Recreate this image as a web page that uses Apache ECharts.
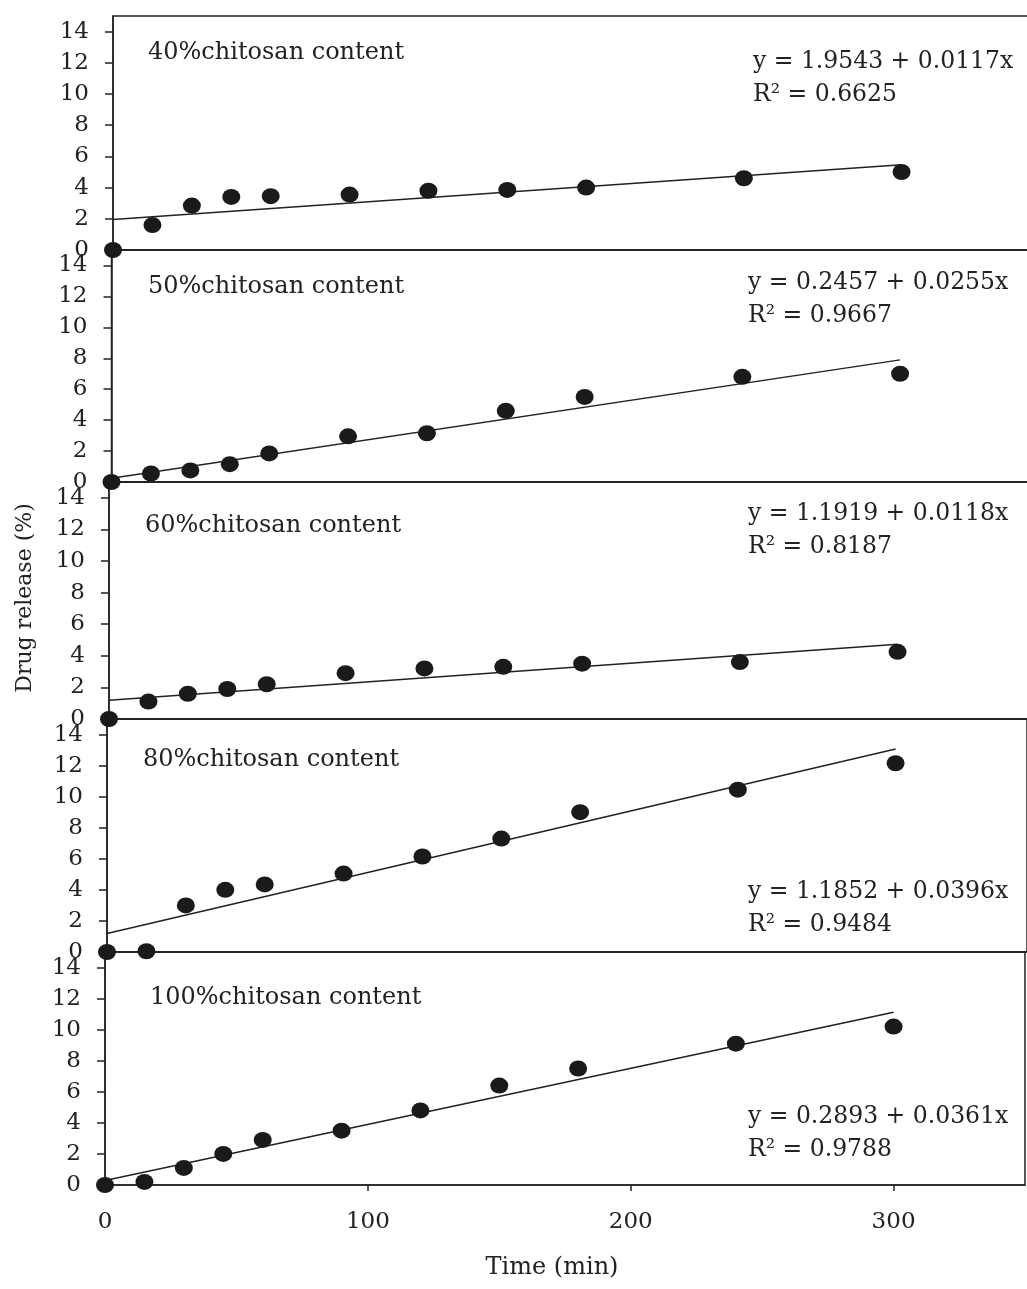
<!DOCTYPE html>
<html><head><meta charset="utf-8">
<script src="https://cdn.jsdelivr.net/npm/echarts@6/dist/echarts.min.js"></script>
<style>html,body{margin:0;padding:0;background:#fff}#c{width:1027px;height:1289px}</style>
</head><body><div id="c"></div>
<script>
// ---- data ----
const times = [0, 15, 30, 45, 60, 90, 120, 150, 180, 240, 300];
const panelNames = ['40%chitosan content', '50%chitosan content', '60%chitosan content', '80%chitosan content', '100%chitosan content'];
const release40  = [0, 1.6, 2.85, 3.4, 3.45, 3.55, 3.8, 3.85, 4.0, 4.6, 5.0];
const release50  = [0, 0.55, 0.75, 1.15, 1.85, 2.95, 3.15, 4.6, 5.5, 6.8, 7.0];
const release60  = [0, 1.1, 1.6, 1.9, 2.2, 2.9, 3.2, 3.3, 3.5, 3.6, 4.25];
const release80  = [0, 0.05, 3.0, 4.0, 4.35, 5.05, 6.15, 7.3, 9.0, 10.45, 12.15];
const release100 = [0, 0.2, 1.1, 2.0, 2.9, 3.5, 4.8, 6.4, 7.5, 9.1, 10.2];
const intercepts = [1.9543, 0.2457, 1.1919, 1.1852, 0.2893];
const slopes     = [0.0117, 0.0255, 0.0118, 0.0396, 0.0361];
const r2Values   = ['0.6625', '0.9667', '0.8187', '0.9484', '0.9788'];
const fitRange   = [0, 300];
const yTicks = [0, 2, 4, 6, 8, 10, 12, 14];
const xTicks = [0, 100, 200, 300];
const xLabel = 'Time (min)';
const yLabel = 'Drug release (%)';

// ---- layout ----
const allSeries = [release40, release50, release60, release80, release100];
const lefts   = [113, 111.5, 109, 107, 105];
const tops    = [16, 250, 482, 719, 952];
const heights = [234, 232, 237, 233, 233];
const nameY   = [53, 287, 526, 760, 998];
const nameX   = [148, 148, 145, 143, 150];
const eqY     = [62, 283, 514, 892, 1117];
const eqX     = [753, 748, 748, 748, 748];
const INK = '#222';
const FONT = 'DejaVu Serif';

const grid = [], xAxis = [], yAxis = [], series = [], graphic = [];
for (let i = 0; i < 5; i++) {
  grid.push({left: lefts[i], top: tops[i], width: 920, height: heights[i], show: true,
    borderColor: INK, borderWidth: 1.5, backgroundColor: 'transparent', outerBoundsMode: 'none'});
  const last = i === 4;
  xAxis.push({gridIndex: i, type: 'value', min: 0, max: 350, interval: 100,
    axisLine: {show: true, onZero: false, lineStyle: {color: INK, width: 1.5}},
    axisTick: {show: last, length: 6, customValues: xTicks, lineStyle: {color: INK, width: 1.5}},
    axisLabel: {show: last, customValues: xTicks, margin: 26, color: INK, fontFamily: FONT, fontSize: 23},
    splitLine: {show: false}});
  yAxis.push({gridIndex: i, type: 'value', min: 0, max: 15, interval: 2,
    axisLine: {show: true, lineStyle: {color: INK, width: 1.5}},
    axisTick: {show: true, length: 8, customValues: yTicks, lineStyle: {color: INK, width: 1.5}},
    axisLabel: {customValues: yTicks, margin: 24, color: INK, fontFamily: FONT, fontSize: 23,
      formatter: v => yTicks.includes(v) ? String(v) : ''},
    splitLine: {show: false}});
  series.push({type: 'line', xAxisIndex: i, yAxisIndex: i, symbol: 'none', z: 2, silent: true,
    lineStyle: {color: INK, width: 1.5},
    data: fitRange.map(x => [x, intercepts[i] + slopes[i] * x])});
  series.push({type: 'scatter', xAxisIndex: i, yAxisIndex: i, z: 3, clip: false,
    symbol: 'circle', symbolSize: [18, 16], itemStyle: {color: '#1a1a1a', opacity: 1},
    data: times.map((t, j) => [t, allSeries[i][j]])});
  graphic.push({type: 'text', x: nameX[i], y: nameY[i],
    style: {text: panelNames[i], fill: INK, font: '24px "' + FONT + '"', align: 'left', verticalAlign: 'middle'}});
  graphic.push({type: 'text', x: eqX[i], y: eqY[i],
    style: {text: 'y = ' + intercepts[i].toFixed(4) + ' + ' + slopes[i].toFixed(4) + 'x', fill: INK,
      font: '23.5px "' + FONT + '"', align: 'left', verticalAlign: 'middle'}});
  graphic.push({type: 'text', x: eqX[i], y: eqY[i] + 33,
    style: {text: 'R² = ' + r2Values[i], fill: INK, font: '23.5px "' + FONT + '"', align: 'left', verticalAlign: 'middle'}});
}
graphic.push({type: 'text', x: 552, y: 1268,
  style: {text: xLabel, fill: INK, font: '24px "' + FONT + '"', align: 'center', verticalAlign: 'middle'}});
graphic.push({type: 'text', x: 25, y: 598, rotation: Math.PI / 2,
  style: {text: yLabel, fill: INK, font: '22px "' + FONT + '"', align: 'center', verticalAlign: 'middle'}});

const chart = echarts.init(document.getElementById('c'), null, {renderer: 'canvas'});
chart.setOption({backgroundColor: '#fff', animation: false, grid, xAxis, yAxis, series, graphic});
</script>
</body></html>
